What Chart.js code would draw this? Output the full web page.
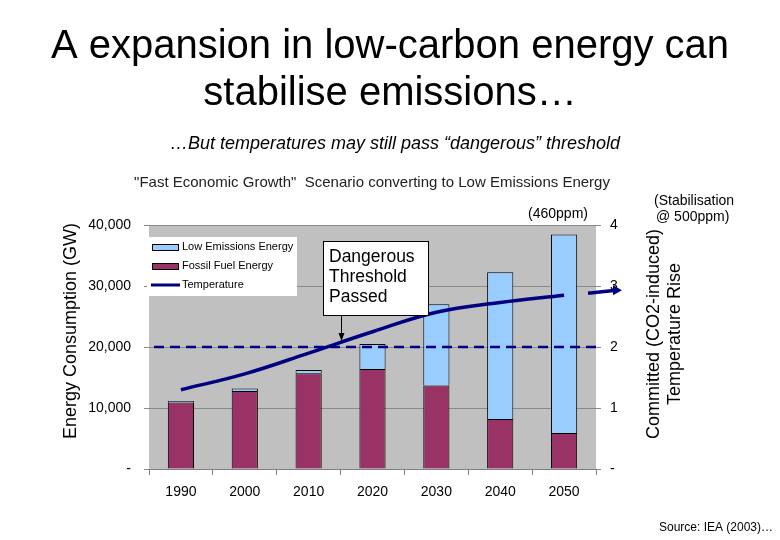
<!DOCTYPE html>
<html>
<head>
<meta charset="utf-8">
<script src="https://cdn.jsdelivr.net/npm/chart.js@4/dist/chart.umd.min.js"></script>
<style>
  html, body { margin: 0; padding: 0; background: #fff; }
  #wrap { width: 780px; height: 540px; position: relative; }
</style>
</head>
<body>
<div id="wrap"><canvas id="chart" width="780" height="540"></canvas></div>
<script>
// ---------- DATA ----------
const years = ['1990', '2000', '2010', '2020', '2030', '2040', '2050'];
const fossilEnergy = [10900, 12800, 15700, 16400, 13700, 8200, 5900];
const lowEmissionsEnergy = [250, 400, 550, 4100, 13300, 24050, 32550];
const temperature = [1.30, 1.56, 1.90, 2.25, 2.57, 2.73, 2.85];
const stabilisationArrow = [2.88, 2.93];   // temperature heading to 500ppm
const dangerThreshold = 2;
const energyTicks = [0, 10000, 20000, 30000, 40000];
const tempTicks = [0, 1, 2, 3, 4];

const FONT = 'Arial, "Liberation Sans", sans-serif';
const NAVY = '#000080';

// ---------- PLUGIN: background, texts, annotations ----------
const decorations = {
    id: 'decorations',
    beforeDraw(chart) {
        const { ctx, chartArea: a } = chart;
        ctx.save();
        ctx.fillStyle = '#c0c0c0';
        ctx.fillRect(a.left, a.top, a.right - a.left, a.bottom - a.top);
        ctx.restore();
    },
    afterDraw(chart) {
        const { ctx, chartArea: a } = chart;
        const x = chart.scales.x, y1 = chart.scales.y1;
        ctx.save();
        ctx.fillStyle = '#000';
        ctx.textAlign = 'center';
        ctx.textBaseline = 'alphabetic';

        // page titles
        ctx.font = '40px ' + FONT;
        ctx.fillText('A expansion in low-carbon energy can', 390, 58);
        ctx.fillText('stabilise emissions…', 390, 105);
        ctx.font = 'italic 18px ' + FONT;
        ctx.fillText('…But temperatures may still pass “dangerous” threshold', 395, 149);

        // chart title
        ctx.fillStyle = '#222';
        ctx.font = '15px ' + FONT;
        ctx.fillText('"Fast Economic Growth"  Scenario converting to Low Emissions Energy', 372, 187);

        ctx.fillStyle = '#000';
        ctx.font = '14px ' + FONT;
        ctx.fillText('(460ppm)', 558, 218);
        ctx.textAlign = 'left';
        ctx.fillText('(Stabilisation', 654, 205);
        ctx.fillText('@ 500ppm)', 656, 221);

        ctx.font = '12px ' + FONT;
        ctx.textAlign = 'right';
        ctx.fillText('Source: IEA (2003)…', 773, 531);

        // axis titles
        ctx.textAlign = 'center';
        ctx.font = '18px ' + FONT;
        ctx.save();
        ctx.translate(76, 331);
        ctx.rotate(-Math.PI / 2);
        ctx.fillText('Energy Consumption (GW)', 0, 0);
        ctx.restore();
        ctx.save();
        ctx.translate(659, 334);
        ctx.rotate(-Math.PI / 2);
        ctx.fillText('Committed (CO2-induced)', 0, 0);
        ctx.fillText('Temperature Rise', 0, 21);
        ctx.restore();

        // threshold dashed line
        const yT = y1.getPixelForValue(dangerThreshold);
        ctx.strokeStyle = NAVY;
        ctx.lineWidth = 2.5;
        ctx.setLineDash([10, 6]);
        ctx.beginPath();
        ctx.moveTo(a.left + 5, yT);
        ctx.lineTo(a.right + 2, yT);
        ctx.stroke();
        ctx.setLineDash([]);

        // stabilisation arrow
        const ax0 = a.right - 8, ax1 = a.right + 26;
        const ay0 = y1.getPixelForValue(stabilisationArrow[0]);
        const ay1 = y1.getPixelForValue(stabilisationArrow[1]);
        ctx.lineWidth = 3.5;
        ctx.beginPath();
        ctx.moveTo(ax0, ay0);
        ctx.lineTo(ax1 - 6, ay1);
        ctx.stroke();
        ctx.fillStyle = NAVY;
        ctx.beginPath();
        ctx.moveTo(ax1, ay1);
        ctx.lineTo(ax1 - 9, ay1 - 5);
        ctx.lineTo(ax1 - 9, ay1 + 5);
        ctx.closePath();
        ctx.fill();

        // legend
        ctx.fillStyle = '#fff';
        ctx.fillRect(147, 237, 150, 59);
        const ds = chart.data.datasets;
        const items = [ds[1], ds[0], ds[2]];
        ctx.font = '11px ' + FONT;
        ctx.textAlign = 'left';
        ctx.textBaseline = 'middle';
        items.forEach((d, i) => {
            const cy = 247 + i * 19;
            if (d.type === 'line') {
                ctx.strokeStyle = d.borderColor;
                ctx.lineWidth = 3;
                ctx.beginPath();
                ctx.moveTo(151, cy);
                ctx.lineTo(180, cy);
                ctx.stroke();
            } else {
                ctx.fillStyle = d.backgroundColor;
                ctx.fillRect(152, cy - 3, 26, 6);
                ctx.strokeStyle = '#000';
                ctx.lineWidth = 1;
                ctx.strokeRect(152.5, cy - 2.5, 26, 6);
            }
            ctx.fillStyle = '#000';
            ctx.fillText(d.label, 182, cy);
        });

        // callout
        ctx.fillStyle = '#fff';
        ctx.fillRect(323, 241, 105, 74);
        ctx.strokeStyle = '#000';
        ctx.lineWidth = 1;
        ctx.strokeRect(323.5, 241.5, 105, 74);
        ctx.fillStyle = '#000';
        ctx.font = '17.5px ' + FONT;
        ctx.textBaseline = 'alphabetic';
        ['Dangerous', 'Threshold', 'Passed'].forEach((t, i) => ctx.fillText(t, 329, 262 + i * 20));
        const px = Math.round((x.getPixelForValue(2) + x.getPixelForValue(3)) / 2) + 0.5;
        ctx.beginPath();
        ctx.moveTo(px, 316);
        ctx.lineTo(px, 335);
        ctx.stroke();
        ctx.beginPath();
        ctx.moveTo(px, 341);
        ctx.lineTo(px - 3, 333);
        ctx.lineTo(px + 3, 333);
        ctx.closePath();
        ctx.fill();

        ctx.restore();
    }
};

// ---------- CHART ----------
const tickFont = { family: FONT, size: 14 };

new Chart(document.getElementById('chart'), {
    type: 'bar',
    data: {
        labels: years,
        datasets: [
            {
                label: 'Fossil Fuel Energy', data: fossilEnergy, stack: 'energy',
                backgroundColor: '#993366', borderColor: '#000', borderWidth: 1, order: 2
            },
            {
                label: 'Low Emissions Energy', data: lowEmissionsEnergy, stack: 'energy',
                backgroundColor: '#99ccff', borderColor: '#000', borderWidth: 1, order: 2
            },
            {
                type: 'line', label: 'Temperature', data: temperature, yAxisID: 'y1',
                borderColor: NAVY, borderWidth: 3.5, pointRadius: 0, tension: 0.4,
                fill: false, order: 1
            }
        ]
    },
    options: {
        responsive: false,
        animation: false,
        layout: { padding: { top: 225, left: 0, right: 0, bottom: 0 } },
        datasets: { bar: { categoryPercentage: 1, barPercentage: 0.41 } },
        plugins: { legend: { display: false }, tooltip: { enabled: false } },
        scales: {
            x: {
                stacked: true,
                afterFit: s => { s.height = 71; },
                grid: { drawOnChartArea: false, offset: true, tickLength: 6, color: '#808080' },
                border: { color: '#808080' },
                ticks: { font: tickFont, color: '#000', padding: 9 }
            },
            y: {
                stacked: true, min: 0, max: 40000,
                afterFit: s => { s.width = 149; },
                afterBuildTicks: s => { s.ticks = energyTicks.map(v => ({ value: v })); },
                grid: { color: '#8a8a8a', tickLength: 5 },
                border: { display: false },
                ticks: {
                    font: tickFont, color: '#000', padding: 13,
                    callback: v => v === 0 ? '-' : v.toLocaleString('en-US')
                }
            },
            y1: {
                position: 'right', min: 0, max: 4,
                afterFit: s => { s.width = 184; },
                afterBuildTicks: s => { s.ticks = tempTicks.map(v => ({ value: v })); },
                grid: { drawOnChartArea: false, color: '#8a8a8a', tickLength: 5 },
                border: { display: false },
                ticks: {
                    font: tickFont, color: '#000', padding: 9,
                    callback: v => v === 0 ? '-' : String(v)
                }
            }
        }
    },
    plugins: [decorations]
});
</script>
</body>
</html>
